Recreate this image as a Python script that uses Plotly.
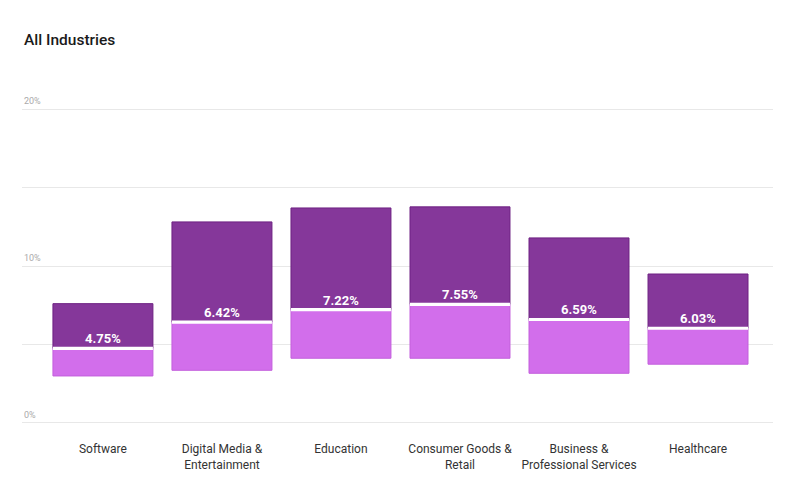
import plotly.graph_objects as go

categories = ["Software", "Digital Media &<br>Entertainment", "Education",
              "Consumer Goods &<br>Retail", "Business &<br>Professional Services", "Healthcare"]
low = [2.99, 3.35, 4.12, 4.12, 3.16, 3.74]
median = [4.75, 6.42, 7.22, 7.55, 6.59, 6.03]
high = [7.60, 12.81, 13.70, 13.77, 11.79, 9.49]
grid_vals = [0, 5, 10, 15, 20]
label_vals = [0, 10, 20]

DARK = "#85379a"
DARK_LINE = "#6e2183"
LIGHT = "#d26eeb"
LIGHT_LINE = "#c35fdc"
BARW = 0.84
SEP = 0.2

fig = go.Figure()
fig.add_trace(go.Bar(x=categories, base=low, y=[m - l for m, l in zip(median, low)],
                     width=BARW, marker=dict(color=LIGHT, line=dict(color=LIGHT_LINE, width=1)),
                     hoverinfo="skip", showlegend=False))
fig.add_trace(go.Bar(x=categories, base=median, y=[h - m for h, m in zip(high, median)],
                     width=BARW, marker=dict(color=DARK, line=dict(color=DARK_LINE, width=1)),
                     hoverinfo="skip", showlegend=False))
fig.add_trace(go.Bar(x=categories, base=[m - SEP / 2 for m in median], y=[SEP] * len(median),
                     width=BARW, marker=dict(color="white", line=dict(width=0)),
                     hoverinfo="skip", showlegend=False))

annotations = []
for c, m in zip(categories, median):
    annotations.append(dict(x=c, y=m, xref="x", yref="y", text=f"<b>{m:.2f}%</b>",
                            showarrow=False, yanchor="bottom", yshift=0,
                            font=dict(family="Roboto", size=13, color="white")))
for v in label_vals:
    annotations.append(dict(x=0, y=v, xref="paper", yref="y", text=f"{v}%",
                            showarrow=False, xanchor="left", yanchor="bottom", yshift=1,
                            font=dict(family="Roboto", size=9, color="#aaaaaa")))

fig.update_layout(
    width=800, height=488,
    margin=dict(l=22, r=27, t=106, b=62),
    paper_bgcolor="white", plot_bgcolor="white",
    barmode="overlay",
    title=dict(text="All Industries", x=24 / 800, xref="container", xanchor="left",
               y=1 - 40 / 488, yref="container", yanchor="middle",
               font=dict(family="Roboto", size=15.5, color="#1a1a1a", weight=500)),
    annotations=annotations,
    xaxis=dict(range=[-0.68, 5.63], showgrid=False, zeroline=False, showline=False,
               ticks="", ticklabelstandoff=14,
               tickfont=dict(family="Roboto", size=12, color="#333"),
               fixedrange=True),
    yaxis=dict(range=[-0.2, 20.2], tickvals=grid_vals, showticklabels=False,
               gridcolor="#e8e8e8", gridwidth=1, zeroline=False, showline=False, fixedrange=True),
)
fig.write_html("out.html")
